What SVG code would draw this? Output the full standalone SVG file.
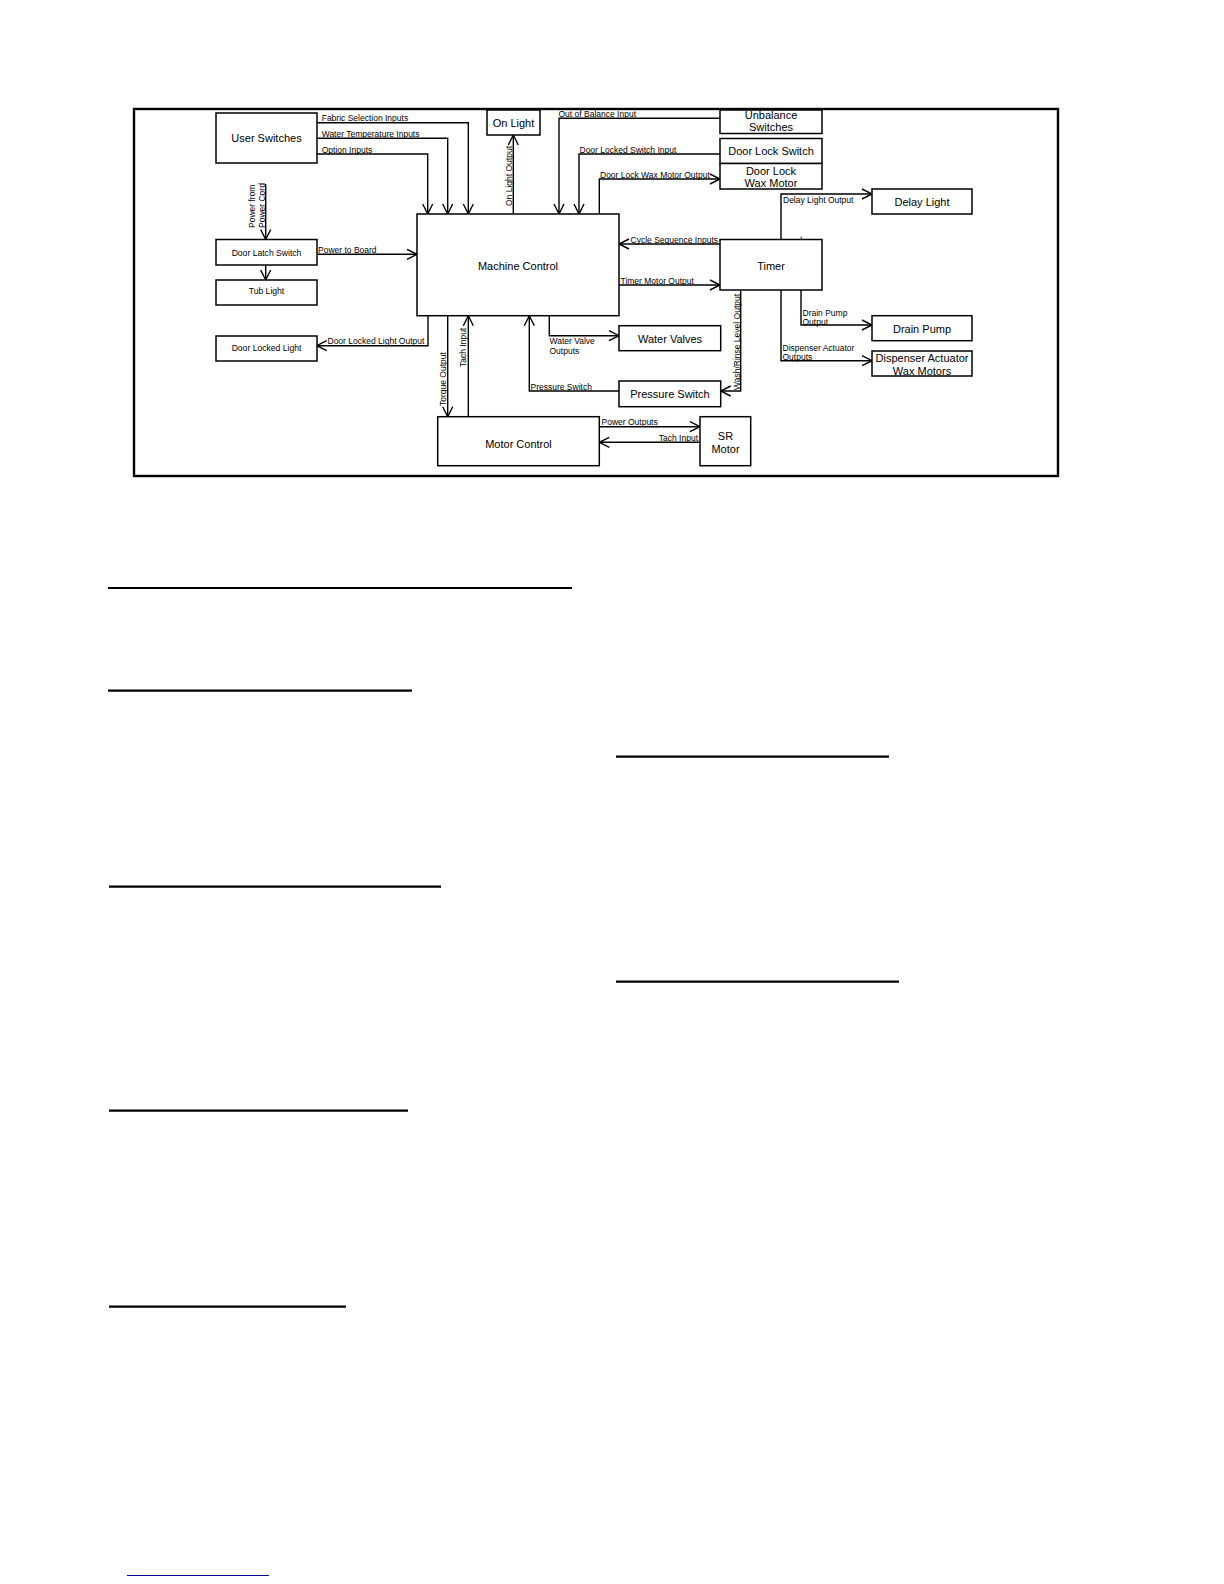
<svg xmlns="http://www.w3.org/2000/svg" width="1224" height="1584" viewBox="0 0 1224 1584">
<style>
.box{fill:#fff;stroke:#000;stroke-width:1.5}
.c{fill:none;stroke:#000;stroke-width:1.4;marker-end:url(#arr)}
.bt{font-family:"Liberation Sans",Arial,sans-serif;font-size:11px;text-anchor:middle;fill:#000}
.bs{font-family:"Liberation Sans",Arial,sans-serif;font-size:8.6px;text-anchor:middle;fill:#000}
.lb{font-family:"Liberation Sans",Arial,sans-serif;font-size:8.5px;fill:#000}
.ul{stroke:#000;stroke-width:2.2}
</style>
<defs>
<marker id="arr" markerUnits="userSpaceOnUse" viewBox="-12 -7 14 14" refX="0" refY="0" markerWidth="14" markerHeight="14" orient="auto">
<path d="M-10,-5 L0,0 L-10,5" fill="none" stroke="#000" stroke-width="1.4"/>
</marker>
</defs>
<rect width="1224" height="1584" fill="#fff"/>
<rect x="134" y="109" width="924" height="367" fill="none" stroke="#000" stroke-width="2.4"/>

<g id="connectors">
<path class="c" d="M317,122.7 H468.3 V214"/>
<path class="c" d="M317,138.3 H447.7 V214"/>
<path class="c" d="M317,154 H427.7 V214"/>
<path class="c" d="M265.7,184 V239.5"/>
<path class="c" d="M265.7,265 V280"/>
<path class="c" d="M317,254.3 H417"/>
<path class="c" d="M513.3,214 V135"/>
<path class="c" d="M720,118.3 H559 V214"/>
<path class="c" d="M720,154 H579 V214"/>
<path class="c" d="M599.3,214 V179 H720"/>
<path class="c" d="M720,244 H619"/>
<path class="c" d="M619,285 H720"/>
<path class="c" d="M781,239.5 V194 H872"/>
<path class="c" d="M801,290 V325 H872"/>
<path class="c" d="M781,290 V360.7 H872"/>
<path class="c" d="M740.7,290 V391 H720.7"/>
<path class="c" d="M619,391 H529.3 V315.7"/>
<path class="c" d="M549.3,315.7 V335.7 H619"/>
<path class="c" d="M428,315.7 V345.7 H316.7"/>
<path class="c" d="M447.7,315.7 V416.7"/>
<path class="c" d="M468.3,416.7 V315.7"/>
<path class="c" d="M599.3,426.7 H700"/>
<path class="c" d="M700,442.3 H599.3"/>
<line x1="801" y1="236.5" x2="801.5" y2="239" stroke="#000" stroke-width="0.8"/>
</g>

<g id="labels">
<text class="lb" x="321.7" y="121.3">Fabric Selection Inputs</text>
<text class="lb" x="321.7" y="136.8">Water Temperature Inputs</text>
<text class="lb" x="321.7" y="152.5">Option Inputs</text>
<text class="lb" x="318" y="253">Power to Board</text>
<text class="lb" x="558.5" y="117">Out of Balance Input</text>
<text class="lb" x="579.5" y="152.5">Door Locked Switch Input</text>
<text class="lb" x="600" y="177.5">Door Lock Wax Motor Output</text>
<text class="lb" x="718" y="242.5" text-anchor="end">Cycle Sequence Inputs</text>
<text class="lb" x="620.5" y="283.5">Timer Motor Output</text>
<text class="lb" x="783" y="202.5">Delay Light Output</text>
<text class="lb" x="802.5" y="315.5">Drain Pump</text>
<text class="lb" x="802.5" y="324.5">Output</text>
<text class="lb" x="782.5" y="350.5">Dispenser Actuator</text>
<text class="lb" x="782.5" y="360">Outputs</text>
<text class="lb" x="549.5" y="344">Water Valve</text>
<text class="lb" x="549.5" y="353.5">Outputs</text>
<text class="lb" x="530.5" y="389.5">Pressure Switch</text>
<text class="lb" x="327.5" y="344">Door Locked Light Output</text>
<text class="lb" x="601.5" y="425">Power Outputs</text>
<text class="lb" x="698" y="441" text-anchor="end">Tach Input</text>
<text class="lb" transform="translate(254.7,228) rotate(-90)">Power from</text>
<text class="lb" transform="translate(264.5,228) rotate(-90)">Power Cord</text>
<text class="lb" transform="translate(512.3,206) rotate(-90)">On Light Output</text>
<text class="lb" transform="translate(445.7,406) rotate(-90)">Torque Output</text>
<text class="lb" transform="translate(466.3,367) rotate(-90)">Tach Input</text>
<text class="lb" transform="translate(740.3,390) rotate(-90)">Wash/Rinse Level Output</text>
</g>

<g id="user-switches"><rect class="box" x="216" y="113" width="101" height="50"/><text class="bt" x="266.5" y="141.5">User Switches</text></g>
<g id="on-light"><rect class="box" x="487" y="110" width="53" height="25"/><text class="bt" x="513.5" y="126.5">On Light</text></g>
<g id="unbalance-switches"><rect class="box" x="720" y="110" width="102" height="23.5"/><text class="bt" x="771" y="119">Unbalance</text><text class="bt" x="771" y="130.5">Switches</text></g>
<g id="door-lock-switch"><rect class="box" x="720" y="138.5" width="102" height="25"/><text class="bt" x="771" y="155">Door Lock Switch</text></g>
<g id="door-lock-wax-motor"><rect class="box" x="720" y="163.5" width="102" height="25.5"/><text class="bt" x="771" y="174.6">Door Lock</text><text class="bt" x="771" y="187">Wax Motor</text></g>
<g id="door-latch-switch"><rect class="box" x="216" y="239.5" width="101" height="25.5"/><text class="bs" x="266.5" y="255.5">Door Latch Switch</text></g>
<g id="tub-light"><rect class="box" x="216" y="280" width="101" height="25"/><text class="bs" x="266.5" y="294.3">Tub Light</text></g>
<g id="door-locked-light"><rect class="box" x="216" y="336" width="101" height="25"/><text class="bs" x="266.5" y="351">Door Locked Light</text></g>
<g id="machine-control"><rect class="box" x="417" y="214" width="202" height="101.7"/><text class="bt" x="518" y="269.5">Machine Control</text></g>
<g id="timer"><rect class="box" x="720" y="239.5" width="102" height="50.5"/><text class="bt" x="771" y="269.5">Timer</text></g>
<g id="delay-light"><rect class="box" x="872" y="189" width="100" height="25"/><text class="bt" x="922" y="206">Delay Light</text></g>
<g id="drain-pump"><rect class="box" x="872" y="315.7" width="100" height="25"/><text class="bt" x="922" y="332.5">Drain Pump</text></g>
<g id="dispenser-actuator"><rect class="box" x="872" y="351" width="100" height="25"/><text class="bt" x="922" y="362.3">Dispenser Actuator</text><text class="bt" x="922" y="374.5">Wax Motors</text></g>
<g id="water-valves"><rect class="box" x="619" y="325.7" width="101.7" height="25"/><text class="bt" x="670" y="342.5">Water Valves</text></g>
<g id="pressure-switch"><rect class="box" x="619" y="381" width="101.7" height="25.7"/><text class="bt" x="670" y="398">Pressure Switch</text></g>
<g id="motor-control"><rect class="box" x="437.7" y="416.7" width="161.6" height="49"/><text class="bt" x="518.5" y="448">Motor Control</text></g>
<g id="sr-motor"><rect class="box" x="700" y="416.7" width="50.7" height="49"/><text class="bt" x="725.5" y="440">SR</text><text class="bt" x="725.5" y="452.5">Motor</text></g>

<g id="page-lines">
<line class="ul" x1="108" y1="588" x2="572" y2="588"/>
<line class="ul" x1="108" y1="690.7" x2="412" y2="690.7"/>
<line class="ul" x1="616" y1="756.7" x2="889" y2="756.7"/>
<line class="ul" x1="109" y1="886.7" x2="441" y2="886.7"/>
<line class="ul" x1="616" y1="981.7" x2="899" y2="981.7"/>
<line class="ul" x1="109" y1="1110.7" x2="408" y2="1110.7"/>
<line class="ul" x1="109" y1="1306.7" x2="346" y2="1306.7"/>
<line x1="127" y1="1575.5" x2="269" y2="1575.5" stroke="#0a0a9a" stroke-width="1"/>
</g>
</svg>
